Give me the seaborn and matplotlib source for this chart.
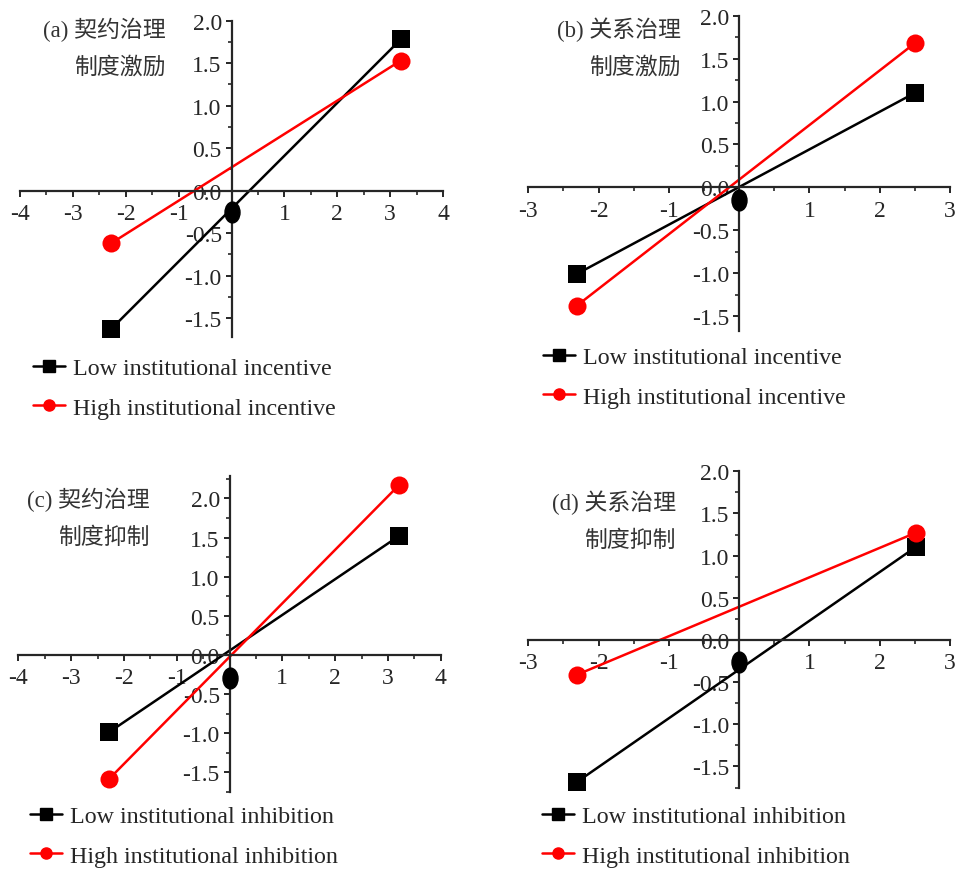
import matplotlib
matplotlib.use('Agg')
import matplotlib.pyplot as plt
from matplotlib.lines import Line2D
from matplotlib.path import Path
from matplotlib.transforms import Affine2D
from matplotlib.ticker import MultipleLocator, FixedLocator, FuncFormatter
import pandas as pd
import seaborn as sns

# ---------------------------------------------------------------- dados
# (a) 契约治理 x 制度激励
x_a = [-2.28, 3.20]
baixo_a = [-1.63, 1.78]
alto_a = [-0.62, 1.53]
ponto_a = -0.25

# (b) 关系治理 x 制度激励
x_b = [-2.31, 2.50]
baixo_b = [-1.01, 1.10]
alto_b = [-1.38, 1.68]
ponto_b = -0.15

# (c) 契约治理 x 制度抑制
x_c = [-2.29, 3.21]
baixo_c = [-0.99, 1.52]
alto_c = [-1.59, 2.17]
ponto_c = -0.29

# (d) 关系治理 x 制度抑制
x_d = [-2.30, 2.51]
baixo_d = [-1.68, 1.10]
alto_d = [-0.41, 1.27]
ponto_d = -0.26

titulos = [('(a) 契约治理', '制度激励'), ('(b) 关系治理', '制度激励'),
           ('(c) 契约治理', '制度抑制'), ('(d) 关系治理', '制度抑制')]
legendas_incentivo = ['Low institutional incentive', 'High institutional incentive']
legendas_inibicao = ['Low institutional inhibition', 'High institutional inhibition']
y_ticks = [-1.5, -1.0, -0.5, 0.0, 0.5, 1.0, 1.5, 2.0]

####################################################################################

sns.set_style('ticks')
plt.rcParams['font.family'] = ['Liberation Serif', 'Noto Sans CJK SC', 'DejaVu Sans']
plt.rcParams['axes.linewidth'] = 1.6

W, H = 955, 870
fig = plt.figure(figsize=(W / 100, H / 100), dpi=100)
fig.patch.set_facecolor('white')

oval = Path.unit_circle().transformed(Affine2D().scale(0.72, 1.0))


def eixo(x0, x1, ytopo, ybase, xlim, ylim):
    # posiciona o eixo em pixels da figura
    ax = fig.add_axes([x0 / W, 1 - ybase / H, (x1 - x0) / W, (ybase - ytopo) / H])
    ax.set_xlim(*xlim)
    ax.set_ylim(*ylim)
    return ax


def painel(ax, x, baixo, alto, ponto, xmax):
    df = pd.DataFrame({
        'x': x + x,
        'y': baixo + alto,
        'grupo': ['Low'] * len(x) + ['High'] * len(x),
    })
    sns.lineplot(data=df, x='x', y='y', hue='grupo', style='grupo',
                 palette={'Low': 'black', 'High': 'red'},
                 markers={'Low': 's', 'High': 'o'}, dashes=False,
                 markersize=13, markeredgewidth=0, linewidth=1.8,
                 legend=False, ax=ax, clip_on=False, sort=False)
    ax.plot([0], [ponto], marker=oval, markersize=15, color='black',
            linestyle='none', clip_on=False, zorder=5)

    ax.set_xlabel('')
    ax.set_ylabel('')
    ax.spines['left'].set_position(('data', 0))
    ax.spines['bottom'].set_position(('data', 0))
    ax.spines['top'].set_visible(False)
    ax.spines['right'].set_visible(False)

    xt = [v for v in range(-xmax, xmax + 1) if v != 0]
    ax.xaxis.set_major_locator(FixedLocator(xt))
    ax.xaxis.set_minor_locator(MultipleLocator(0.5))
    ax.xaxis.set_major_formatter(FuncFormatter(lambda v, p: f'{v:.0f}'))
    ax.yaxis.set_major_locator(FixedLocator(y_ticks))
    ax.yaxis.set_minor_locator(MultipleLocator(0.25))
    ax.yaxis.set_major_formatter(FuncFormatter(lambda v, p: f'{v:.1f}'))
    ax.tick_params(axis='both', which='major', direction='out', length=4,
                   width=1.4, labelsize=17, pad=3)
    ax.tick_params(axis='both', which='minor', direction='out', length=3, width=1.2)
    ax.tick_params(axis='x', which='major', pad=5)
    ax.set_facecolor('none')


ax_a = eixo(20, 443, 21.7, 337.9, (-4, 4), (-1.72, 2.0))
painel(ax_a, x_a, baixo_a, alto_a, ponto_a, 4)
ax_b = eixo(528.3, 950, 16.7, 331.6, (-3, 3), (-1.67, 2.0))
painel(ax_b, x_b, baixo_b, alto_b, ponto_b, 3)
ax_c = eixo(18.3, 440.7, 476.7, 793, (-4, 4), (-1.75, 2.29))
painel(ax_c, x_c, baixo_c, alto_c, ponto_c, 4)
ax_d = eixo(528.3, 950, 472.3, 788.5, (-3, 3), (-1.75, 2.0))
painel(ax_d, x_d, baixo_d, alto_d, ponto_d, 3)

# títulos em chinês
pos_titulos = [(166, 30, 68), (681, 30, 68), (150, 500, 538), (676, 503, 541)]
for (l1, l2), (xr, y1, y2) in zip(titulos, pos_titulos):
    fig.text(xr / W, 1 - y1 / H, l1, ha='right', va='center', fontsize=16.5, color='#333333')
    fig.text(xr / W, 1 - y2 / H, l2, ha='right', va='center', fontsize=16.5, color='#333333')

# legendas
alcas = [Line2D([], [], color='black', marker='s', markersize=8, linewidth=1.8),
         Line2D([], [], color='red', marker='o', markersize=8, linewidth=1.8)]
pos_legendas = [(33, 389, legendas_incentivo), (543, 378, legendas_incentivo),
                (30, 837, legendas_inibicao), (542, 837, legendas_inibicao)]
for xl, yc, textos in pos_legendas:
    fig.legend(alcas, textos, loc='center left', bbox_to_anchor=(xl / W, 1 - yc / H),
               frameon=False, fontsize=17.3, handlelength=1.35, handletextpad=0.3,
               labelspacing=0.75, borderpad=0, borderaxespad=0)

plt.savefig('out.png', dpi=100)
